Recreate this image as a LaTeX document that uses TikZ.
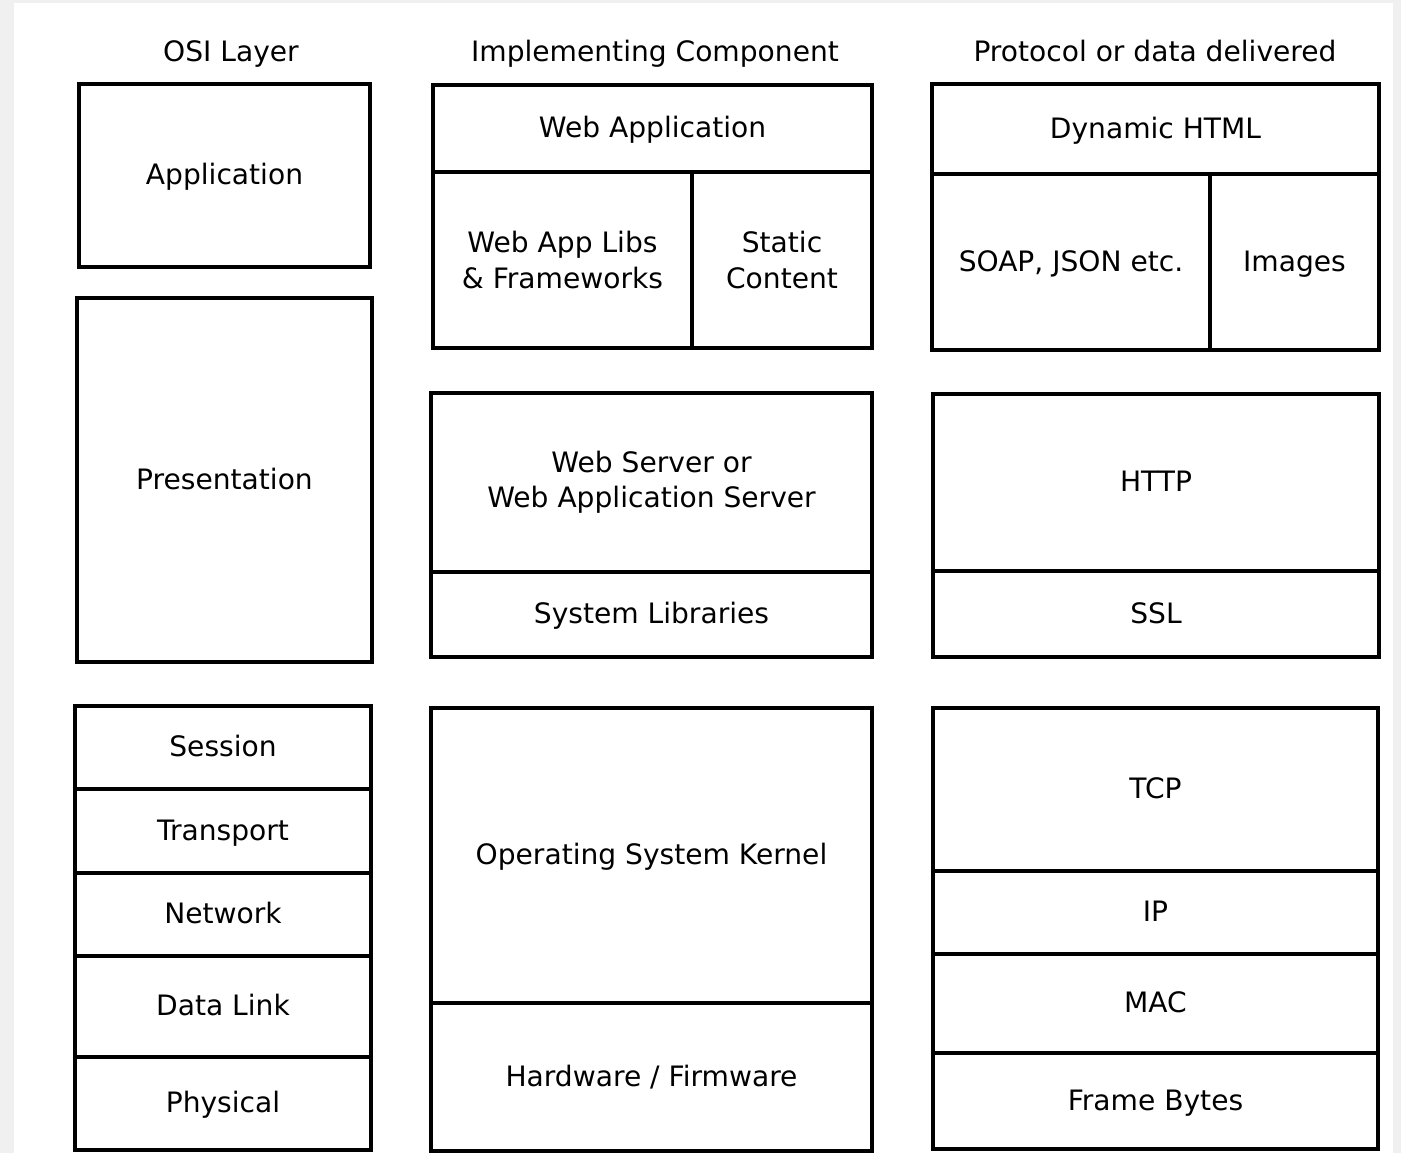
\documentclass[tikz,border=0pt]{standalone}
\usepackage{fontspec}
\setmainfont{DejaVu Sans}
\usepackage{xcolor}
\usepackage{tikz}
\usetikzlibrary{positioning}

\definecolor{pagegray}{RGB}{240,240,240}

\begin{document}
\begin{tikzpicture}[x=0.1mm, y=-0.1mm,
        font=\fontsize{8}{10}\selectfont]

        % One cell of a stack, sized in pixels of the layout grid
        \tikzset{
            cell/.style={draw, line width=1.1pt, inner sep=0pt, outer sep=0pt,
                align=center},
            oneline/.style={cell, text height=0.75em, text depth=0.22em},
            cellsize/.style 2 args={minimum width=#1*0.1mm, minimum height=#2*0.1mm},
            heading/.style={inner sep=0pt, anchor=base}
        }

        % Page background
        \fill[pagegray] (0, 0) rectangle (1401, 1153);
        \fill[white] (14, 3) rectangle (1393, 1153);
        \useasboundingbox (0, 0) rectangle (1401, 1153);

        % Column headings
        \node[heading] (H1) at (231, 61) {OSI Layer};
        \node[heading] (H2) at (655, 61) {Implementing Component};
        \node[heading] (H3) at (1155, 61) {Protocol or data delivered};

        % OSI layers
        \begin{scope}
            \node[oneline, cellsize={291}{183}] (App) at (224.5, 175.5) {Application};
            \node[oneline, cellsize={295}{364}] (Pres) at (224.5, 480) {Presentation};

            \node[oneline, cellsize={296}{83}] (Sess) at (223, 747.5) {Session};
            \node[oneline, cellsize={296}{84}] (Trans) [below=0pt of Sess] {Transport};
            \node[oneline, cellsize={296}{83}] (Net) [below=0pt of Trans] {Network};
            \node[oneline, cellsize={296}{101}] (Link) [below=0pt of Net] {Data Link};
            \node[oneline, cellsize={296}{93}] (Phys) [below=0pt of Link] {Physical};
        \end{scope}

        % Implementing components
        \begin{scope}
            \node[oneline, cellsize={439}{87}] (WebApp) at (652.5, 128.5) {Web Application};
            \node[cell, cellsize={259}{176}, anchor=north west] (Libs)
                at (WebApp.south west) {Web App Libs\\\& Frameworks};
            \node[cell, cellsize={180}{176}, anchor=north west] (Static)
                at (Libs.north east) {Static\\Content};

            \node[cell, cellsize={441}{179}] (WebSrv) at (651.5, 482.5)
                {Web Server or\\Web Application Server};
            \node[oneline, cellsize={441}{85}] (SysLib) [below=0pt of WebSrv] {System Libraries};

            \node[oneline, cellsize={441}{295}] (Kernel) at (651.5, 855.5)
                {Operating System Kernel};
            \node[oneline, cellsize={441}{148}] (HW) [below=0pt of Kernel] {Hardware / Firmware};
        \end{scope}

        % Protocols and data
        \begin{scope}
            \node[oneline, cellsize={447}{90}] (DHTML) at (1155.5, 129) {Dynamic HTML};
            \node[oneline, cellsize={278}{176}, anchor=north west] (Soap)
                at (DHTML.south west) {SOAP, JSON etc.};
            \node[oneline, cellsize={169}{176}, anchor=north west] (Img)
                at (Soap.north east) {Images};

            \node[oneline, cellsize={446}{177}] (HTTP) at (1156, 482.5) {HTTP};
            \node[oneline, cellsize={446}{86}] (SSL) [below=0pt of HTTP] {SSL};

            \node[oneline, cellsize={445}{163}] (TCP) at (1155.5, 789.5) {TCP};
            \node[oneline, cellsize={445}{83}] (IP) [below=0pt of TCP] {IP};
            \node[oneline, cellsize={445}{99}] (MAC) [below=0pt of IP] {MAC};
            \node[oneline, cellsize={445}{96}] (Frame) [below=0pt of MAC] {Frame Bytes};
        \end{scope}

\end{tikzpicture}
\end{document}
